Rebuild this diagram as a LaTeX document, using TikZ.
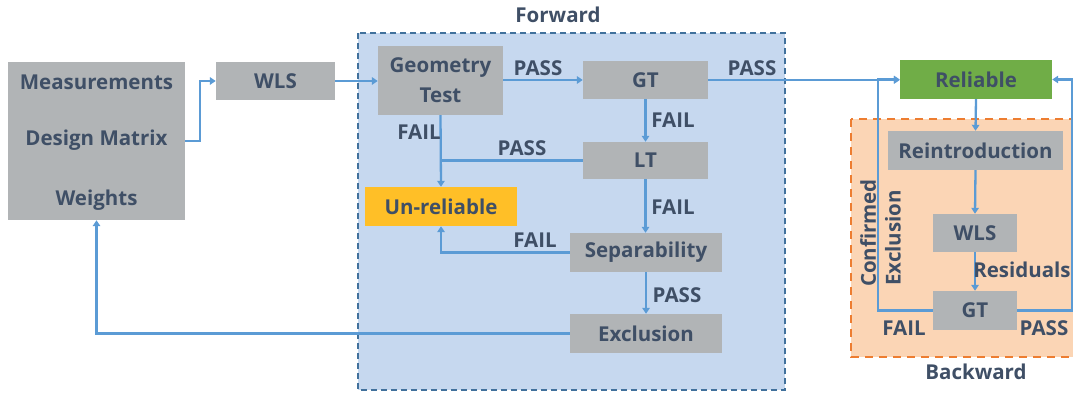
\documentclass[tikz,border=0pt]{standalone}
\usepackage{fontspec}
\setmainfont{Open Sans}
\usetikzlibrary{arrows.meta}
\definecolor{txt}{HTML}{3F4F66}
\definecolor{boxg}{HTML}{B1B4B6}
\definecolor{arrc}{HTML}{5B9BD5}
\definecolor{fwdfill}{HTML}{C6D8EF}
\definecolor{fwdline}{HTML}{41719C}
\definecolor{bwdfill}{HTML}{FBD5B5}
\definecolor{bwdline}{HTML}{ED7D31}
\definecolor{relg}{HTML}{70AD47}
\definecolor{unrel}{HTML}{FFBF27}
\begin{document}
\begin{tikzpicture}[x=1pt,y=-1pt,
  lbl/.style={text=txt,font=\fontsize{20.5}{30}\selectfont\bfseries,inner sep=0pt},
  gbox/.style={fill=boxg,draw=none,lbl,minimum height=38pt},
  ln/.style={draw=arrc,line width=2.3pt},
  arr/.style={ln,-{Triangle[width=7.5pt,length=6pt]}}]
\useasboundingbox (0,0) rectangle (1073,393);
% group panels
\path[fill=fwdfill,draw=fwdline,line width=1.5pt,dash pattern=on 6pt off 4pt] (358,33) rectangle (785,390);
\path[fill=bwdfill,draw=bwdline,line width=1.5pt,dash pattern=on 8pt off 6pt] (851,119) rectangle (1090,357);
\node[lbl] (fwdlbl) at (558,15) {Forward};
\node[lbl] (bwdlbl) at (976,372) {Backward};
% nodes
\node[gbox,minimum width=177pt,minimum height=158pt] (in) at (96.5,141) {};
\node[lbl] (meas) at (96.5,82) {Measurements};
\node[lbl] (dm) at (96.5,140) {Design Matrix};
\node[lbl] (wt) at (96.5,200) {Weights};
\node[gbox,minimum width=119pt] (wls1) at (275.5,81) {WLS};
\node[gbox,minimum width=125pt,minimum height=69pt,align=center] (geo) at (440.5,80.5) {Geometry\\Test};
\node[gbox,minimum width=125pt] (gt1) at (645.5,80) {GT};
\node[gbox,minimum width=125pt,minimum height=37pt] (lt) at (645.5,160.5) {LT};
\node[gbox,fill=unrel,minimum width=152pt,minimum height=39pt] (unr) at (441,206.5) {Un-reliable};
\node[gbox,minimum width=152pt,minimum height=39pt] (sep) at (646,252.5) {Separability};
\node[gbox,minimum width=152pt,minimum height=39pt] (excl) at (646,333.5) {Exclusion};
\node[gbox,fill=relg,minimum width=152pt,minimum height=39pt] (rel) at (976,79.5) {Reliable};
\node[gbox,minimum width=175pt,minimum height=39pt] (reint) at (975.5,150.5) {Reintroduction};
\node[gbox,minimum width=84pt] (wls2) at (975,233) {WLS};
\node[gbox,minimum width=84pt,minimum height=39pt] (gt2) at (975,310.5) {GT};
% connectors
\draw[arr] (in.east) -- ++(15,0) |- (wls1.west);
\draw[arr] (wls1.east) -- (geo.west |- wls1.east);
\draw[arr] (geo.east |- gt1.west) -- (gt1.west);
\draw[arr] (gt1.east) -- (rel.west |- gt1.east);
\draw[arr] (gt1.south) -- (lt.north);
\draw[arr] (geo.south) -- (unr.north);
\draw[ln] (lt.west) -- (lt.west -| geo.south);
\draw[arr] (lt.south) -- (lt.south |- sep.north);
\draw[arr] (sep.west) -| (unr.south);
\draw[arr] (sep.south) -- (excl.north);
\draw[arr] (excl.west) -| (in.south);
\draw[arr] (rel.south) -- (reint.north);
\draw[arr] (reint.south) -- (wls2.north);
\draw[arr] (wls2.south) -- (gt2.north);
\draw[arr] (gt2.west) -- ++(-55,0) |- (rel.west);
\draw[arr] (gt2.east) -- ++(55,0) |- (rel.east);
% labels
\node[lbl] (p1) at (538,68) {PASS};
\node[lbl] (p2) at (752,68) {PASS};
\node[lbl] (f1) at (673,120) {FAIL};
\node[lbl] (f2) at (419,132) {FAIL};
\node[lbl] (p3) at (522,148) {PASS};
\node[lbl] (f3) at (673,207) {FAIL};
\node[lbl] (f4) at (535,240) {FAIL};
\node[lbl] (p4) at (677,295) {PASS};
\node[lbl] (res) at (1022,270) {Residuals};
\node[lbl] (f5) at (904,328) {FAIL};
\node[lbl] (p5) at (1044,328) {PASS};
\node[lbl,rotate=90] (conf) at (868,233) {Confirmed};
\node[lbl,rotate=90] (exc2) at (893,238) {Exclusion};
\end{tikzpicture}
\end{document}
